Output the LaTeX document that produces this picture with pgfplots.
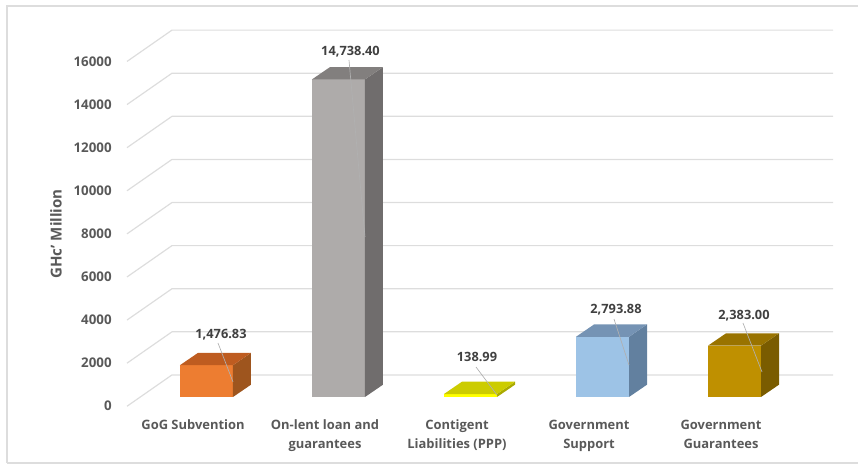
\documentclass[border=0pt]{standalone}
\usepackage{pgfplots}
\pgfplotsset{compat=1.18}
\usepackage{fontspec}
\setmainfont{Open Sans}[BoldFont={Open Sans Bold}]
\definecolor{gridc}{HTML}{DDDDDD}
\definecolor{lab}{HTML}{595959}
\definecolor{dlab}{HTML}{404040}
\definecolor{lead}{HTML}{B0B0B0}
\begin{document}
\begin{tikzpicture}[x=0.75pt,y=0.75pt]
\draw[color=gridc,line width=1.2pt] (-120,-66) -- (731,-66);
\draw[color=gridc,line width=1.2pt] (-120,-66) -- (-120,391) -- (731,391);
\begin{axis}[
  at={(0,0)},anchor=origin,
  scale only axis,
  width=529.5pt,height=258.6pt,
  xmin=127,xmax=833,ymin=0,ymax=16000,
  clip=false,
  axis line style={draw=none},
  major tick style={draw=none},
  ytick={0,2000,...,16000},
  xtick={193,325,457,589,721},
  xticklabels={GoG Subvention,{On-lent loan and\\guarantees},{Contigent\\Liabilities (PPP)},{Government\\Support},{Government\\Guarantees}},
  /pgf/number format/assume math mode=true,
  /pgf/number format/set thousands separator={},
  scaled y ticks=false,
  yticklabel style={font=\bfseries\fontsize{10}{12}\selectfont,color=lab,xshift=-8pt,yshift=-6.8pt},
  xticklabel style={font=\bfseries\fontsize{9.7}{14.4}\selectfont,color=lab,align=center,yshift=-13.6pt},
  ylabel={GHc\symbol{39} Million},
  ylabel style={at={(axis cs:56,7564)},anchor=center,font=\bfseries\fontsize{11.3}{13}\selectfont,color=lab},
]
% gridlines
\addplot[gridc,line width=0.9pt] coordinates {(127,-430)(172,1025)(833,1025)};
\addplot[gridc,line width=0.9pt] coordinates {(127,1570)(172,3025)(833,3025)};
\addplot[gridc,line width=0.9pt] coordinates {(127,3570)(172,5025)(833,5025)};
\addplot[gridc,line width=0.9pt] coordinates {(127,5570)(172,7025)(833,7025)};
\addplot[gridc,line width=0.9pt] coordinates {(127,7570)(172,9025)(833,9025)};
\addplot[gridc,line width=0.9pt] coordinates {(127,9570)(172,11025)(833,11025)};
\addplot[gridc,line width=0.9pt] coordinates {(127,11570)(172,13025)(833,13025)};
\addplot[gridc,line width=0.9pt] coordinates {(127,13570)(172,15025)(833,15025)};
\addplot[gridc,line width=0.9pt] coordinates {(127,15570)(172,17025)(833,17025)};
% bars
\addplot[fill={rgb,255:red,237;green,125;blue,49},draw=none] coordinates {(180,0)(233,0)(233,1476.83)(180,1476.83)} --cycle;
\addplot[fill={rgb,255:red,158;green,85;blue,30},draw=none] coordinates {(233,0)(251,571)(251,2047.83)(233,1476.83)} --cycle;
\addplot[fill={rgb,255:red,190;green,92;blue,32},draw=none] coordinates {(180,1476.83)(233,1476.83)(251,2047.83)(198,2047.83)} --cycle;

\addplot[fill={rgb,255:red,174;green,171;blue,170},draw=none] coordinates {(312,0)(365,0)(365,14738.40)(312,14738.40)} --cycle;
\addplot[fill={rgb,255:red,112;green,109;blue,109},draw=none] coordinates {(365,0)(383,571)(383,15309.40)(365,14738.40)} --cycle;
\addplot[fill={rgb,255:red,130;green,127;blue,126},draw=none] coordinates {(312,14738.40)(365,14738.40)(383,15309.40)(330,15309.40)} --cycle;

\addplot[fill={rgb,255:red,255;green,255;blue,0},draw=none] coordinates {(444,0)(497,0)(497,138.99)(444,138.99)} --cycle;
\addplot[fill={rgb,255:red,170;green,170;blue,0},draw=none] coordinates {(497,0)(515,571)(515,709.99)(497,138.99)} --cycle;
\addplot[fill={rgb,255:red,204;green,204;blue,0},draw=none] coordinates {(444,138.99)(497,138.99)(515,709.99)(462,709.99)} --cycle;

\addplot[fill={rgb,255:red,157;green,195;blue,230},draw=none] coordinates {(576,0)(629,0)(629,2793.88)(576,2793.88)} --cycle;
\addplot[fill={rgb,255:red,98;green,128;blue,159},draw=none] coordinates {(629,0)(647,571)(647,3364.88)(629,2793.88)} --cycle;
\addplot[fill={rgb,255:red,117;green,147;blue,180},draw=none] coordinates {(576,2793.88)(629,2793.88)(647,3364.88)(594,3364.88)} --cycle;

\addplot[fill={rgb,255:red,191;green,144;blue,0},draw=none] coordinates {(708,0)(761,0)(761,2383.00)(708,2383.00)} --cycle;
\addplot[fill={rgb,255:red,122;green,92;blue,0},draw=none] coordinates {(761,0)(779,571)(779,2954.00)(761,2383.00)} --cycle;
\addplot[fill={rgb,255:red,153;green,115;blue,0},draw=none] coordinates {(708,2383.00)(761,2383.00)(779,2954.00)(726,2954.00)} --cycle;
% leader lines
\addplot[lead,line width=0.5pt] coordinates {(349,15638)(365,7425)};
\addplot[lead,line width=0.5pt] coordinates {(218,2506)(233,696)};
\addplot[lead,line width=0.5pt] coordinates {(476,1392)(497,93)};
\addplot[lead,line width=0.5pt] coordinates {(614,3619)(629,1485)};
\addplot[lead,line width=0.5pt] coordinates {(743,3434)(762,1160)};
% data labels
\node[font=\bfseries\fontsize{9.6}{11}\selectfont,color=dlab,yshift=-1pt] at (axis cs:350.5,16102) {14,738.40};
\node[font=\bfseries\fontsize{9.6}{11}\selectfont,color=dlab,yshift=-1pt] at (axis cs:221,2970) {1,476.83};
\node[font=\bfseries\fontsize{9.6}{11}\selectfont,color=dlab,yshift=-1pt] at (axis cs:477,1903) {138.99};
\node[font=\bfseries\fontsize{9.6}{11}\selectfont,color=dlab,yshift=-1pt] at (axis cs:616,4130) {2,793.88};
\node[font=\bfseries\fontsize{9.6}{11}\selectfont,color=dlab,yshift=-1pt] at (axis cs:744,3852) {2,383.00};
\end{axis}
\pgfresetboundingbox
\useasboundingbox (-127,-67) rectangle (731,397);
\end{tikzpicture}
\end{document}
